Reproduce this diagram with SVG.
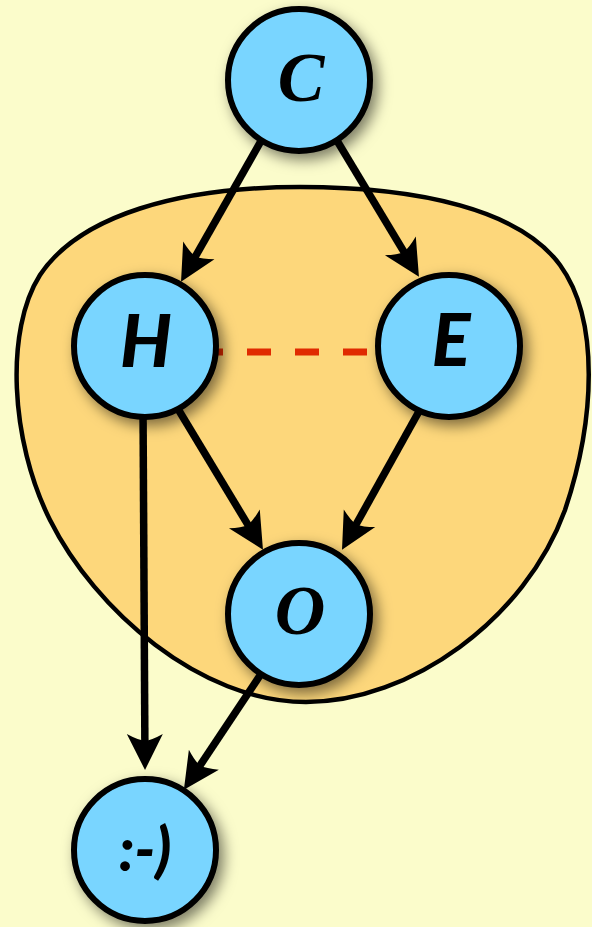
<svg xmlns="http://www.w3.org/2000/svg" width="592" height="927" viewBox="0 0 592 927">
<defs>
<filter id="sh" x="-30%" y="-30%" width="170%" height="170%">
<feDropShadow dx="5" dy="6" stdDeviation="7" flood-color="#000" flood-opacity="0.5"/>
</filter>
<marker id="ah" markerUnits="userSpaceOnUse" viewBox="-20 -22 46 44" refX="0" refY="0" markerWidth="46" markerHeight="44" orient="auto">
<path d="M22,0 L-14,-18 Q-8,-7 -7,0 Q-8,7 -14,18 Z" fill="#000"/>
</marker>
</defs>
<style>
.node circle{fill:#79d5ff;stroke:#000;stroke-width:6;filter:url(#sh)}
.lbl{font-family:Lato,"Open Sans",sans-serif;font-weight:900;font-style:italic;font-size:72px;text-anchor:middle;fill:#000}
.edge{stroke:#000;stroke-width:7.5;fill:none;marker-end:url(#ah)}
</style>
<rect width="592" height="927" fill="#fbfccb"/>
<g id="cluster">
<path d="M300,187 C420,187 520,210 560,265 C600,320 595,420 565,510 C525,620 410,702 306,702 C200,702 95,610 50,520 C10,440 5,330 40,275 C80,215 180,187 300,187 Z" fill="#fdd77b" stroke="#000" stroke-width="4.5"/>
</g>
<g id="connectors">
<line x1="199" y1="352" x2="367" y2="352" stroke="#e02a00" stroke-width="7" stroke-dasharray="24 24"/>
<line class="edge" x1="265" y1="134" x2="191.9" y2="262.6"/>
<line class="edge" x1="333" y1="134" x2="407.6" y2="257.9"/>
<line class="edge" x1="175" y1="404" x2="251.6" y2="530.9"/>
<line class="edge" x1="422" y1="406" x2="352.7" y2="530.5"/>
<line class="edge" x1="143" y1="405" x2="144.9" y2="748"/>
<line class="edge" x1="263" y1="671" x2="196.1" y2="771.4"/>
</g>
<g id="node-C" class="node"><circle cx="299" cy="80" r="71"/><text class="lbl" x="301" y="101" style="font-family:'Liberation Serif',serif;font-weight:700;font-style:italic;font-size:70px">C</text></g>
<g id="node-H" class="node"><circle cx="145" cy="346" r="71"/><text class="lbl" x="146" y="367">H</text></g>
<g id="node-E" class="node"><circle cx="449" cy="346" r="71"/><text class="lbl" x="451" y="366">E</text></g>
<g id="node-O" class="node"><circle cx="299" cy="614" r="71"/><text class="lbl" x="300" y="634" style="font-family:'Liberation Serif',serif;font-weight:700;font-style:italic;font-size:70px">O</text></g>
<g id="node-S" class="node"><circle cx="145" cy="850" r="71"/><text class="lbl" x="145" y="871" style="font-size:60px">:-)</text></g>
</svg>
